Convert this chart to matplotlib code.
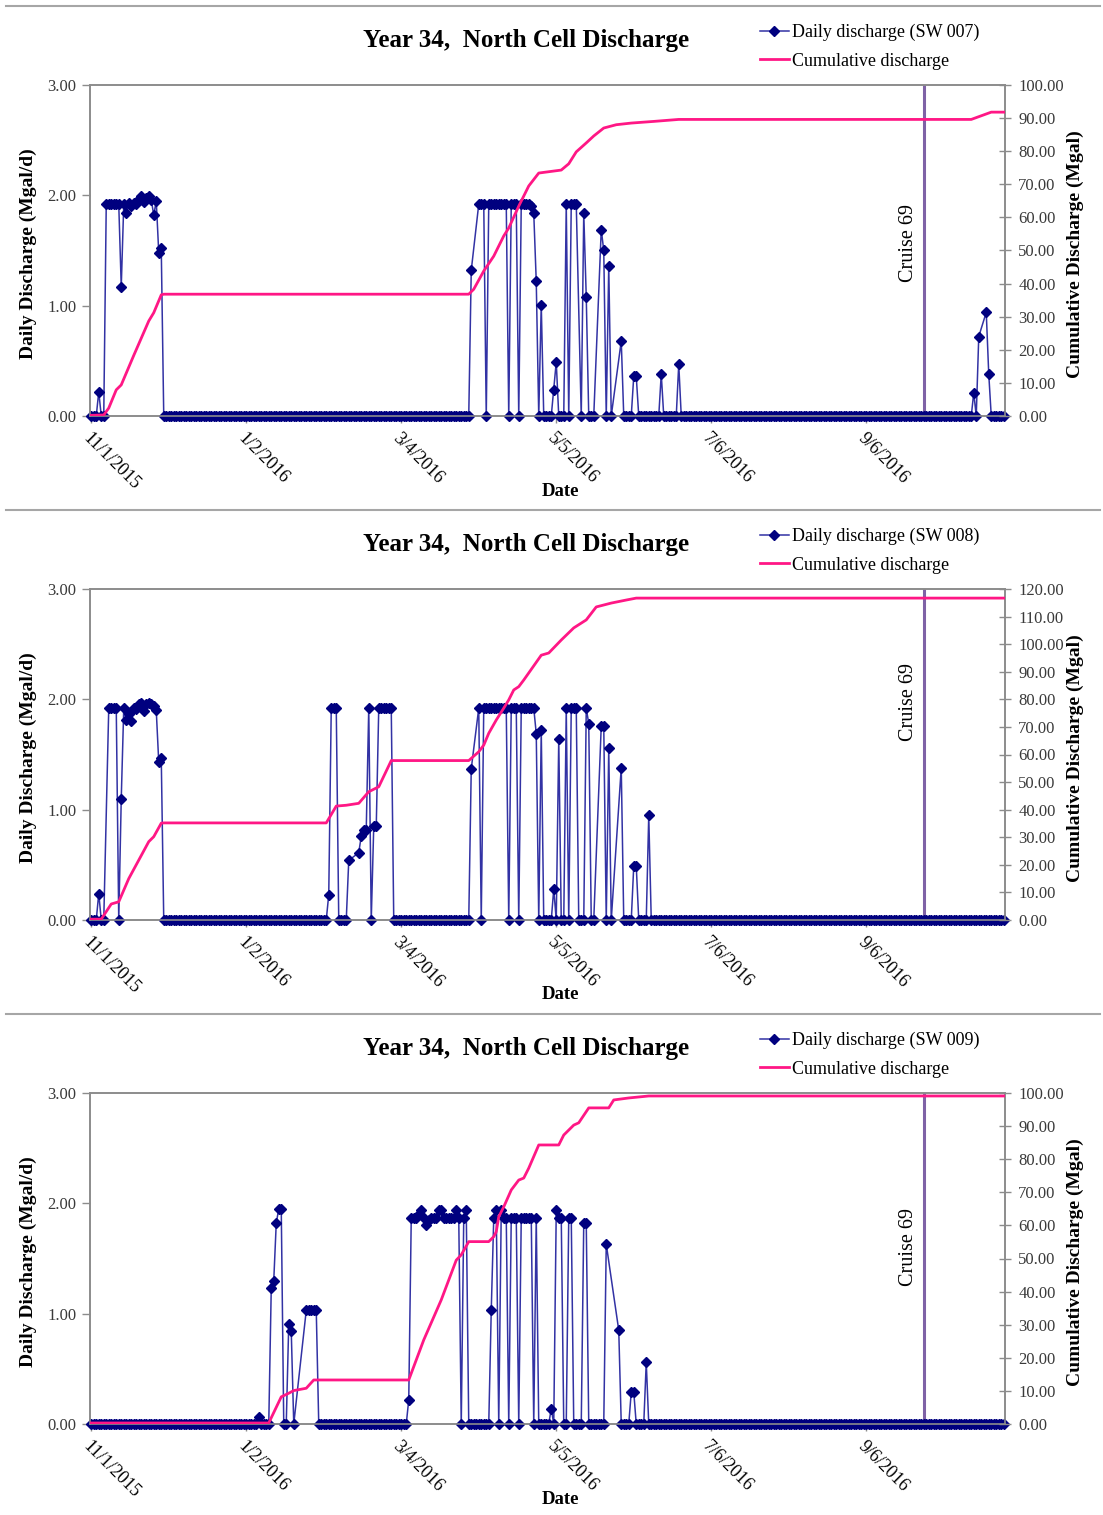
import matplotlib
matplotlib.use('Agg')
import matplotlib.pyplot as plt
import numpy as np
import pandas as pd
from matplotlib.lines import Line2D

plt.rcParams['font.family'] = ['Liberation Serif', 'DejaVu Serif']

START = pd.Timestamp('2015-11-01')
END = pd.Timestamp('2016-10-31')
CRUISE_DATE = pd.Timestamp('2016-09-29')

# daily discharge (Mgal/d): runs of consecutive days, None = no reading,
# every day outside a run is 0
sw007_runs = [
    ('2015-11-04', [0.22, 0, 0, 1.92, 1.92, 1.92, 1.92, 1.92, 1.92, 1.17, 1.92, 1.84, 1.93,
                    1.90, 1.93, 1.92, 1.97, 1.99, 1.94, 1.98, 1.99, 1.96, 1.82, 1.95, 1.48, 1.52]),
    ('2016-04-01', [1.32, None, None, 1.92, 1.92, 1.92, 0, 1.92, 1.92, 1.92, 1.92, 1.92, 1.92,
                    1.92, 1.92, 0, 1.92, 1.92, 1.92, 0, 1.92, 1.92, 1.92, 1.92, 1.90, 1.84,
                    1.22, 0, 1.01, 0, 0, 0, 0, 0.24, 0.49, 0, 0, 0, 1.92, 0, 1.92, 1.92,
                    1.92, None, 0, 1.84, 1.08, 0, 0, 0, None, None, 1.69, 1.50, 0, 1.36, 0,
                    None, None, None, 0.68, 0, 0, 0, 0, 0.36, 0.36]),
    ('2016-06-16', [0.38]),
    ('2016-06-23', [0.47]),
    ('2016-10-19', [0.21, 0, 0.72, None, None, 0.94, 0.38]),
]
sw008_runs = [
    ('2015-11-04', [0.24, 0, 0, None, 1.92, 1.92, 1.92, 1.92, 0, 1.10, 1.92, 1.81, 1.87,
                    1.80, 1.92, 1.91, 1.96, 1.97, 1.89, 1.96, 1.97, 1.96, 1.94, 1.90, 1.43, 1.47]),
    ('2016-02-04', [0.23, 1.92, 1.92, 1.92, 0, 0, 0, 0, 0.54, None, None, None, 0.61, 0.76,
                    0.82, 0.82, 1.92, 0, 0.85, 0.85, 1.92, 1.92, 1.92, 1.92, 1.92, 1.92]),
    ('2016-04-01', [1.37, None, None, 1.92, 0, 1.92, 1.92, 1.92, 1.92, 1.92, 1.92, 1.92,
                    1.92, 1.92, 1.92, 0, 1.92, 1.92, 1.92, 0, 1.92, 1.92, 1.92, 1.92, 1.92,
                    1.92, 1.69, 0, 1.72, 0, 0, 0, 0, 0.28, 0, 1.64, 0, 0, 1.92, 0, 1.92,
                    1.92, 1.92, 0, 0, 0, 1.92, 1.78, 0, 0, None, None, 1.76, 1.76, 0, 1.56,
                    0, None, None, None, 1.38, 0, 0, 0, 0, 0.49, 0.49, 0, 0, 0, 0, 0.95]),
]
sw009_runs = [
    ('2016-01-07', [0.06]),
    ('2016-01-12', [1.23, 1.30, 1.82, 1.95, 1.95, 0, 0, 0.91, 0.84, 0, None, None, None,
                    None, 1.03, 1.03, 1.03, 1.03, 1.03]),
    ('2016-03-07', [0.22, 1.87, 1.87, 1.87, 1.90, 1.94, 1.87, 1.80, 1.85, 1.87, 1.87, 1.87,
                    1.94, 1.94, 1.87, 1.87, 1.87, 1.87, 1.87, 1.94, 1.87, 0, 1.87, 1.94]),
    ('2016-04-09', [1.03, 1.87, 1.94, 0, 1.94, 1.87, 1.87, 0, 1.87, 1.87, 1.87, 0, 1.87,
                    1.87, 1.87, 1.87, 1.87, 0, 1.87, 0, 0, 0, 0, 0, 0.14, 0, 1.94, 1.87,
                    1.87, 0, 0, 1.87, 1.87, 0, 0, 0, 0, 1.82, 1.82, 0, 0, 0, 0, 0, 0, 0,
                    1.63, None, None, None, None, 0.85, 0, 0, 0, 0, 0.29, 0.29, 0, 0, 0,
                    0, 0.56]),
]

# cumulative discharge (Mgal), read at its turning points
sw007_cum_dates = ['2015-11-01', '2015-11-06', '2015-11-08', '2015-11-11', '2015-11-13',
                   '2015-11-18', '2015-11-24', '2015-11-26', '2015-11-29', '2015-11-30',
                   '2016-03-31', '2016-04-02', '2016-04-06', '2016-04-10', '2016-04-14',
                   '2016-04-16', '2016-04-20', '2016-04-24', '2016-04-28', '2016-05-07',
                   '2016-05-10', '2016-05-13', '2016-05-17', '2016-05-20', '2016-05-24',
                   '2016-05-29', '2016-06-04', '2016-06-13', '2016-06-23', '2016-10-18',
                   '2016-10-26', '2016-10-31']
sw007_cum = [0.2, 0.3, 2.4, 7.9, 9.4, 18.3, 28.7, 31.2, 36.6, 36.8, 36.8, 38.3, 43.8, 48.3,
             54.4, 56.8, 63.4, 69.5, 73.4, 74.3, 76.2, 79.8, 82.5, 84.6, 87.0, 88.0, 88.5,
             89.0, 89.6, 89.6, 91.8, 91.8]

sw008_cum_dates = ['2015-11-01', '2015-11-05', '2015-11-09', '2015-11-12', '2015-11-16',
                   '2015-11-24', '2015-11-26', '2015-11-29', '2015-11-30', '2016-02-03',
                   '2016-02-07', '2016-02-11', '2016-02-16', '2016-02-20', '2016-02-24',
                   '2016-02-29', '2016-03-31', '2016-04-04', '2016-04-06', '2016-04-08',
                   '2016-04-11', '2016-04-14', '2016-04-16', '2016-04-18', '2016-04-20',
                   '2016-04-22', '2016-04-29', '2016-05-02', '2016-05-07', '2016-05-12',
                   '2016-05-17', '2016-05-21', '2016-05-27', '2016-06-02', '2016-06-06',
                   '2016-10-31']
sw008_cum = [0.3, 0.3, 5.8, 6.6, 15.0, 28.4, 30.2, 35.1, 35.2, 35.2, 41.3, 41.6, 42.3, 46.5,
             48.3, 57.8, 57.8, 61.0, 63.4, 67.7, 72.5, 76.8, 79.8, 83.4, 84.6, 87.0, 96.0,
             96.8, 101.5, 105.9, 108.8, 113.5, 114.9, 116.0, 116.7, 116.7]

sw009_cum_dates = ['2015-11-01', '2016-01-11', '2016-01-16', '2016-01-19', '2016-01-21',
                   '2016-01-26', '2016-01-29', '2016-03-07', '2016-03-13', '2016-03-20',
                   '2016-03-26', '2016-03-28', '2016-03-31', '2016-04-08', '2016-04-10',
                   '2016-04-11', '2016-04-12', '2016-04-14', '2016-04-17', '2016-04-20',
                   '2016-04-22', '2016-04-24', '2016-04-28', '2016-05-06', '2016-05-08',
                   '2016-05-12', '2016-05-14', '2016-05-18', '2016-05-26', '2016-05-28',
                   '2016-06-03', '2016-06-11', '2016-10-31']
sw009_cum = [0.3, 0.3, 8.2, 9.3, 10.1, 10.8, 13.3, 13.3, 25.4, 37.5, 49.5, 51.1, 55.1, 55.1,
             56.6, 58.1, 62.6, 65.6, 70.7, 73.7, 74.3, 77.3, 84.3, 84.3, 87.3, 90.3, 91.0,
             95.5, 95.5, 97.9, 98.5, 99.1, 99.1]

stations = ['SW 007', 'SW 008', 'SW 009']
daily_runs = [sw007_runs, sw008_runs, sw009_runs]
cum_dates = [sw007_cum_dates, sw008_cum_dates, sw009_cum_dates]
cum_values = [sw007_cum, sw008_cum, sw009_cum]
cum_max = [100, 120, 100]
cruise_label_y = [1.57, 1.98, 1.60]

DAILY_LINE = '#3232a4'
DAILY_MARK = '#00007f'
CUM_COLOR = '#ff1785'
CRUISE_COLOR = '#7f62a6'
FRAME = '#8c8c8c'
TICK_TXT = '#3a3a3a'

W, H = 1103, 1515


def expand(runs):
    days = pd.date_range(START, END, freq='D')
    vals = pd.Series(0.0, index=days)
    for start, seq in runs:
        idx = pd.date_range(start, periods=len(seq), freq='D')
        vals[idx] = [np.nan if v is None else v for v in seq]
    return vals.dropna()


fig = plt.figure(figsize=(W / 100, H / 100), dpi=100)
half = pd.Timedelta(hours=12)
tick_dates = pd.date_range(START, periods=6, freq='62D')
tick_labels = ['{}/{}/{}'.format(d.month, d.day, d.year) for d in tick_dates]

for i in range(3):
    off = 504 * i
    top, bottom, left, right = 85 + off, 416 + off, 90, 1005
    ax = fig.add_axes([left / W, 1 - bottom / H, (right - left) / W, (bottom - top) / H])
    ax2 = ax.twinx()

    daily = expand(daily_runs[i])
    ax.axvline(CRUISE_DATE, color=CRUISE_COLOR, lw=2.2, zorder=1)
    ax.plot(daily.index, daily.values, color=DAILY_LINE, lw=1.1, marker='D', ms=4.6,
            mfc=DAILY_MARK, mec=DAILY_MARK, zorder=3, clip_on=False)
    ax2.plot(pd.to_datetime(cum_dates[i]), cum_values[i], color=CUM_COLOR, lw=2.0,
             zorder=4)

    ax.text(pd.Timestamp('2016-09-23'), cruise_label_y[i], 'Cruise 69', rotation=90,
            ha='center', va='center', fontsize=14.5)

    ax.set_xlim(START - half, END + half)
    ax.set_ylim(0, 3)
    ax2.set_ylim(0, cum_max[i])
    ax.set_yticks([0, 1, 2, 3])
    ax.set_yticklabels(['{:.2f}'.format(v) for v in [0, 1, 2, 3]], color=TICK_TXT,
                       fontsize=12)
    ticks2 = np.arange(0, cum_max[i] + 1, 10)
    ax2.set_yticks(ticks2)
    ax2.set_yticklabels(['{:.2f}'.format(v) for v in ticks2], color=TICK_TXT, fontsize=12)
    ax.set_xticks(tick_dates)
    ax.set_xticklabels(tick_labels, rotation=-45, ha='left', va='top',
                       rotation_mode='anchor', fontsize=13)

    ax.tick_params(axis='y', direction='out', length=6, width=1, color=FRAME, pad=4)
    ax.tick_params(axis='x', direction='out', length=5, width=1, color=FRAME, pad=5)
    ax2.tick_params(axis='y', direction='inout', length=9, width=1, color=FRAME, pad=5)
    for a in (ax, ax2):
        for s in a.spines.values():
            s.set_color(FRAME)
            s.set_linewidth(1.2)

    fig.text(526 / W, 1 - (41 + off) / H, 'Year 34,  North Cell Discharge', ha='center',
             va='center', fontsize=18, fontweight='bold')
    fig.text(560 / W, 1 - (491 + off) / H, 'Date', ha='center', va='center',
             fontsize=13.5, fontweight='bold')
    fig.text(28 / W, 1 - (254 + off) / H, 'Daily Discharge (Mgal/d)', rotation=90,
             ha='center', va='center', fontsize=14, fontweight='bold')
    fig.text(1075 / W, 1 - (254 + off) / H, 'Cumulative Discharge (Mgal)', rotation=90,
             ha='center', va='center', fontsize=14, fontweight='bold')

    handles = [Line2D([], [], color=DAILY_LINE, lw=1.1, marker='D', ms=4.6, mfc=DAILY_MARK,
                      mec=DAILY_MARK),
               Line2D([], [], color=CUM_COLOR, lw=2.0)]
    labels = ['Daily discharge ({})'.format(stations[i]), 'Cumulative discharge']
    fig.legend(handles, labels, loc='upper left', frameon=False,
               bbox_to_anchor=(760 / W, 1 - (24 + off) / H), fontsize=13,
               handlelength=1.6, handletextpad=0.15, borderpad=0, borderaxespad=0,
               labelspacing=0.62)

# panel separators
for y in (6, 510, 1014):
    fig.add_artist(Line2D([6 / W, 1100 / W], [1 - y / H, 1 - y / H], color='#a6a6a6',
                          lw=1.5, transform=fig.transFigure))

fig.savefig('out.png', dpi=100)
